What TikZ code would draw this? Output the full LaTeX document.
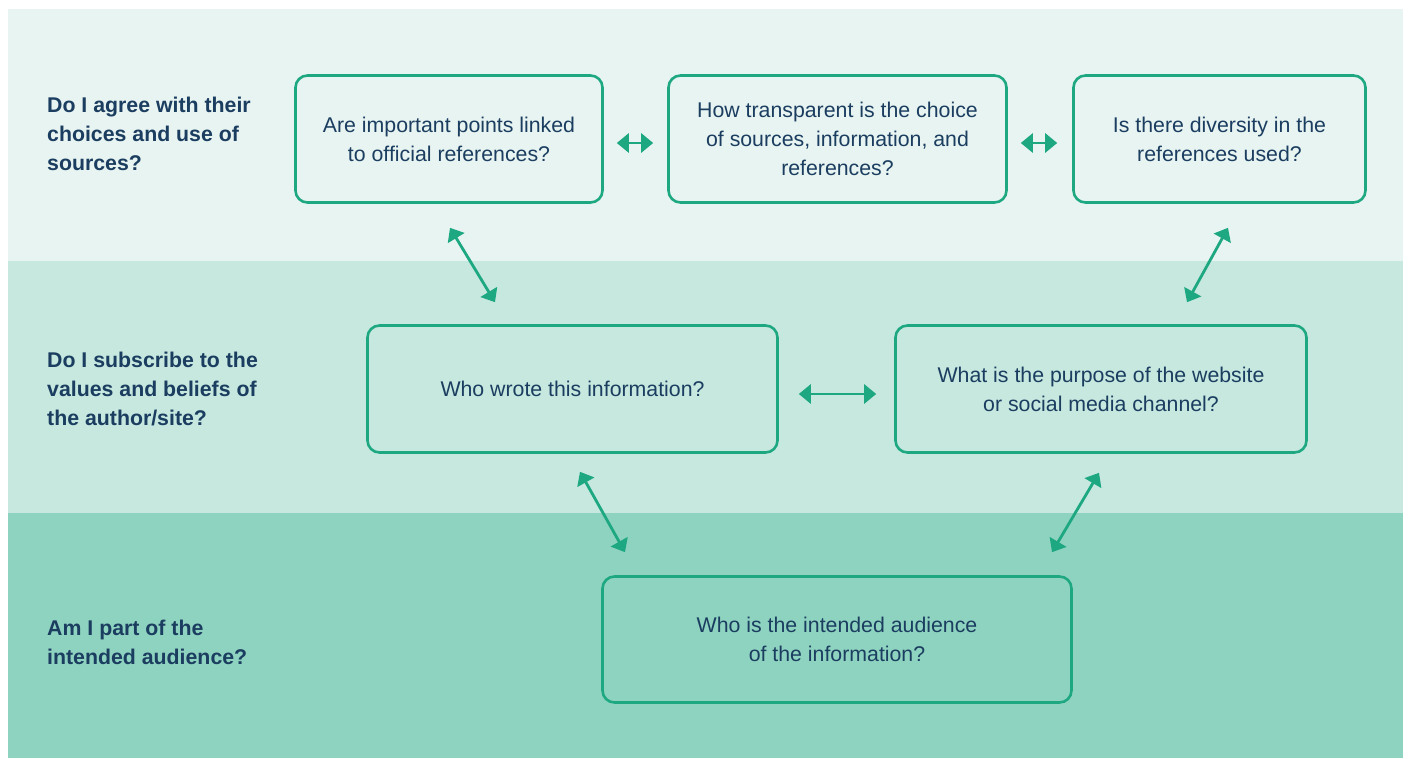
\documentclass[tikz,border=0pt]{standalone}
\usepackage{fontspec}
\setmainfont{Liberation Sans}
\usetikzlibrary{arrows.meta,calc}
\definecolor{bandA}{HTML}{E7F4F1}
\definecolor{bandB}{HTML}{C6E8DF}
\definecolor{bandC}{HTML}{8ED3C0}
\definecolor{boxline}{HTML}{1EA882}
\definecolor{navy}{HTML}{1B3D60}
\begin{document}
\begin{tikzpicture}[x=1pt,y=-1pt,
  qbox/.style={draw=boxline,line width=2.6pt,rounded corners=12pt,align=center,
    font=\fontsize{21.3}{29}\selectfont,text=navy,minimum height=127pt,inner sep=0pt},
  lbl/.style={anchor=west,align=left,font=\fontsize{21.3}{29}\selectfont\bfseries,text=navy,inner sep=0pt},
  biarrow/.style={draw=boxline,line width=2.8pt,{Triangle[length=12pt,width=19pt]}-{Triangle[length=12pt,width=19pt]}}]
\useasboundingbox (0,0) rectangle (1408,758);
\fill[white] (0,0) rectangle (1408,758);
\fill[bandA] (8,9) rectangle (1403,261);
\fill[bandB] (8,261) rectangle (1403,513);
\fill[bandC] (8,513) rectangle (1403,758);

\node[lbl] (l1) at (47,134) {Do I agree with their\\choices and use of\\sources?};
\node[lbl] (l2) at (47,389) {Do I subscribe to the\\values and beliefs of\\the author/site?};
\node[lbl] (l3) at (47,642) {Am I part of the\\intended audience?};

\node[qbox,minimum width=307pt] (b1) at (449,139) {Are important points linked\\to official references?};
\node[qbox,minimum width=338pt] (b2) at (837.5,139) {How transparent is the choice\\of sources, information, and\\references?};
\node[qbox,minimum width=292pt] (b3) at (1219.5,139) {Is there diversity in the\\references used?};
\node[qbox,minimum width=410pt] (b4) at (572.5,389) {Who wrote this information?};
\node[qbox,minimum width=411pt] (b5) at (1101,389) {What is the purpose of the website\\or social media channel?};
\node[qbox,minimum width=469pt,minimum height=126pt] (b6) at (837,639.5) {Who is the intended audience\\of the information?};

\draw[biarrow] ($(b1.east)+(13,4)$) -- ($(b2.west)+(-14,4)$);
\draw[biarrow] ($(b2.east)+(13,4)$) -- ($(b3.west)+(-15,4)$);
\draw[biarrow] ($(b4.east)+(20,5)$) -- ($(b5.west)+(-18,5)$);
\draw[biarrow] ($(b1.south)+(1,24)$) -- ($(b4.north)+(-77.5,-22)$);
\draw[biarrow] ($(b3.south)+(8.5,24)$) -- ($(b5.north)+(86,-22)$);
\draw[biarrow] ($(b4.south)+(7.5,18)$) -- ($(b6.north)+(-212,-23)$);
\draw[biarrow] ($(b5.south)+(-2,19)$) -- ($(b6.north)+(215,-23)$);
\end{tikzpicture}
\end{document}
